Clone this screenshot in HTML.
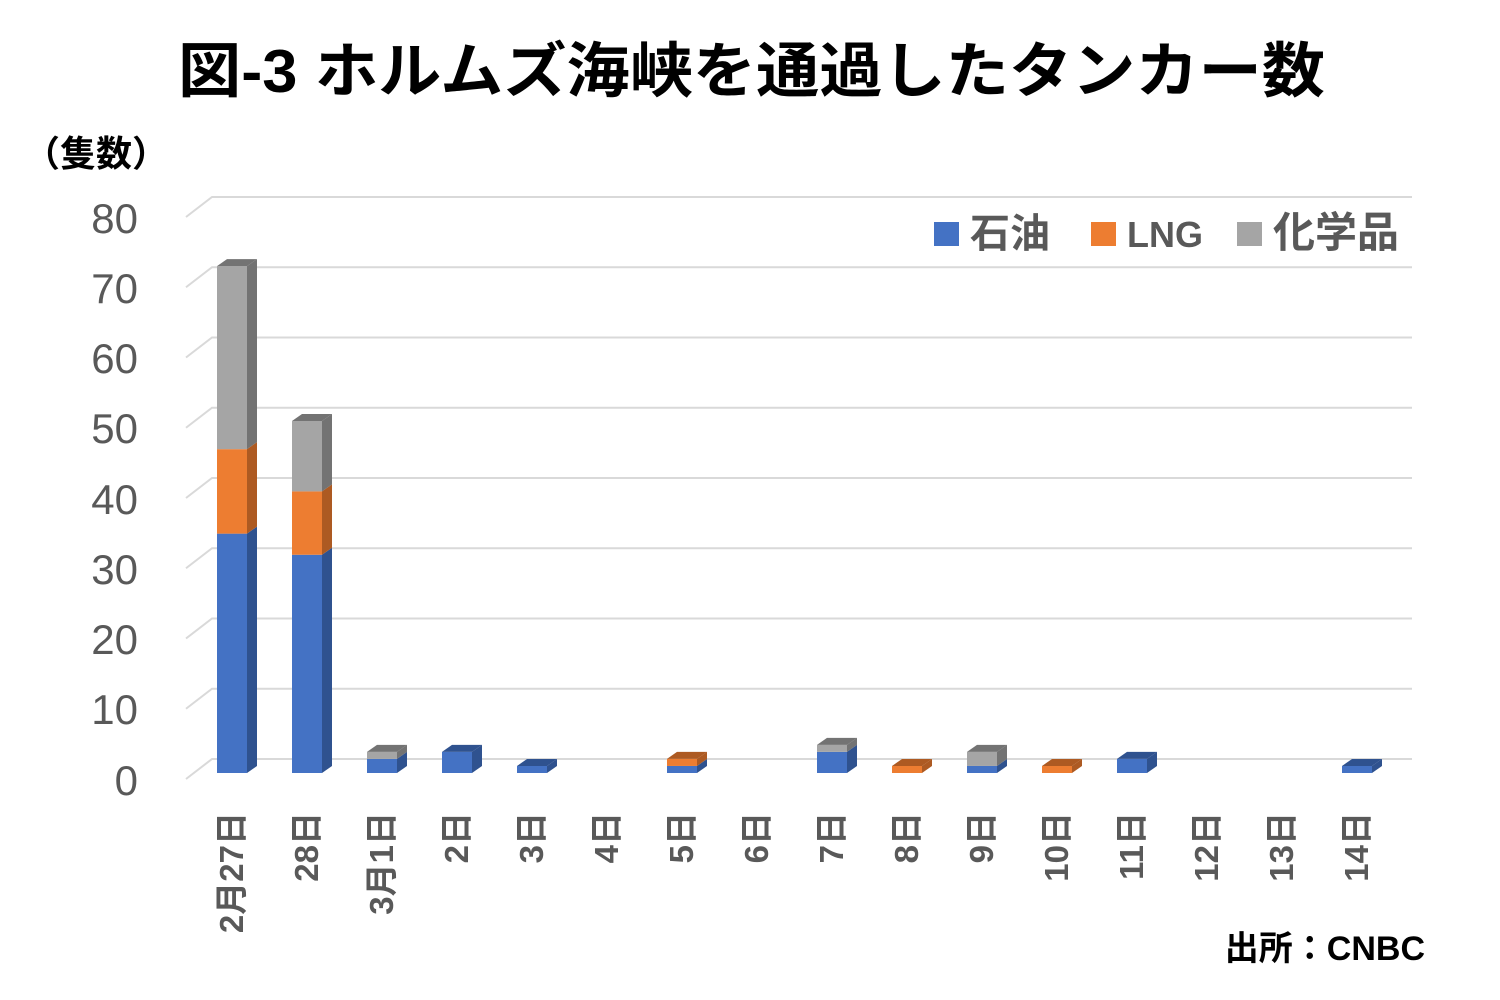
<!DOCTYPE html>
<html><head><meta charset="utf-8"><style>
body{margin:0;background:#fff;}
svg{display:block;}
</style></head><body>
<svg id="s" width="1500" height="1000" xmlns="http://www.w3.org/2000/svg" font-family="'Liberation Sans','Noto Sans CJK JP',sans-serif">
<rect width="1500" height="1000" fill="#fff"/>
<text x="178" y="92" textLength="1147" lengthAdjust="spacingAndGlyphs" font-size="60" font-weight="bold" fill="#000">図-3 ホルムズ海峡を通過したタンカー数</text>
<text x="24" y="166" font-size="36" font-weight="bold" fill="#000">（隻数）</text>
<g id="grid" stroke="#d9d9d9" stroke-width="2" fill="none"></g>
<g font-size="42" fill="#595959" text-anchor="end">
<text x="138" y="233">80</text><text x="138" y="303">70</text><text x="138" y="373">60</text><text x="138" y="443">50</text>
<text x="138" y="514">40</text><text x="138" y="584">30</text><text x="138" y="654">20</text><text x="138" y="724">10</text><text x="138" y="795">0</text>
</g>
<g id="bars"></g>
<g font-size="33" font-weight="bold" fill="#595959" text-anchor="end">
<text transform="translate(243,812) rotate(-90)">2月27日</text>
<text transform="translate(318,812) rotate(-90)">28日</text>
<text transform="translate(393,812) rotate(-90)">3月1日</text>
<text transform="translate(468,812) rotate(-90)">2日</text>
<text transform="translate(543,812) rotate(-90)">3日</text>
<text transform="translate(618,812) rotate(-90)">4日</text>
<text transform="translate(693,812) rotate(-90)">5日</text>
<text transform="translate(768,812) rotate(-90)">6日</text>
<text transform="translate(843,812) rotate(-90)">7日</text>
<text transform="translate(918,812) rotate(-90)">8日</text>
<text transform="translate(993,812) rotate(-90)">9日</text>
<text transform="translate(1068,812) rotate(-90)">10日</text>
<text transform="translate(1143,812) rotate(-90)">11日</text>
<text transform="translate(1218,812) rotate(-90)">12日</text>
<text transform="translate(1293,812) rotate(-90)">13日</text>
<text transform="translate(1368,812) rotate(-90)">14日</text>
</g>
<rect x="934" y="222" width="25" height="24" fill="#4472c4"/>
<text x="970" y="247" font-size="40" font-weight="bold" fill="#595959">石油</text>
<rect x="1091" y="222" width="25" height="24" fill="#ed7d31"/>
<text x="1127" y="247" font-size="36" font-weight="bold" fill="#595959">LNG</text>
<rect x="1237" y="222" width="25" height="24" fill="#a5a5a5"/>
<text x="1273" y="247" font-size="42" font-weight="bold" fill="#595959">化学品</text>
<text x="1425" y="960" text-anchor="end" font-size="34" font-weight="bold" fill="#000">出所：CNBC</text>
</svg>
<script>
var ns="http://www.w3.org/2000/svg";
function el(p,t,a){var e=document.createElementNS(ns,t);for(var k in a)e.setAttribute(k,a[k]);p.appendChild(e);return e;}
var g=document.getElementById('grid');
for(var i=0;i<=8;i++){var y=759-70.25*i;
el(g,'path',{d:'M186 '+(y+20)+' L212 '+y+' L1412 '+y});}
var data=[[34,12,26],[31,9,10],[2,0,1],[3,0,0],[1,0,0],[0,0,0],[1,1,0],[0,0,0],[3,0,1],[0,1,0],[1,0,2],[0,1,0],[2,0,0],[0,0,0],[0,0,0],[1,0,0]];
var cols=[["#4472c4","#2f528f"],["#ed7d31","#ad5a22"],["#a5a5a5","#737373"]];
var b=document.getElementById('bars');var u=7.04,W=30,dx=10,dy=7;
data.forEach(function(d,i){var x=217+75*i;var base=773;var topc=null;
for(var s=0;s<3;s++){if(!d[s])continue;var h=d[s]*u;var y=base-h;
el(b,'rect',{x:x,y:y,width:W,height:h,fill:cols[s][0]});
el(b,'polygon',{points:(x+W)+','+base+' '+(x+W+dx)+','+(base-dy)+' '+(x+W+dx)+','+(y-dy)+' '+(x+W)+','+y,fill:cols[s][1]});
base=y;topc=s;}
if(topc!==null)el(b,'polygon',{points:x+','+base+' '+(x+dx)+','+(base-dy)+' '+(x+W+dx)+','+(base-dy)+' '+(x+W)+','+base,fill:cols[topc][1]});
});
</script>
</body></html>
